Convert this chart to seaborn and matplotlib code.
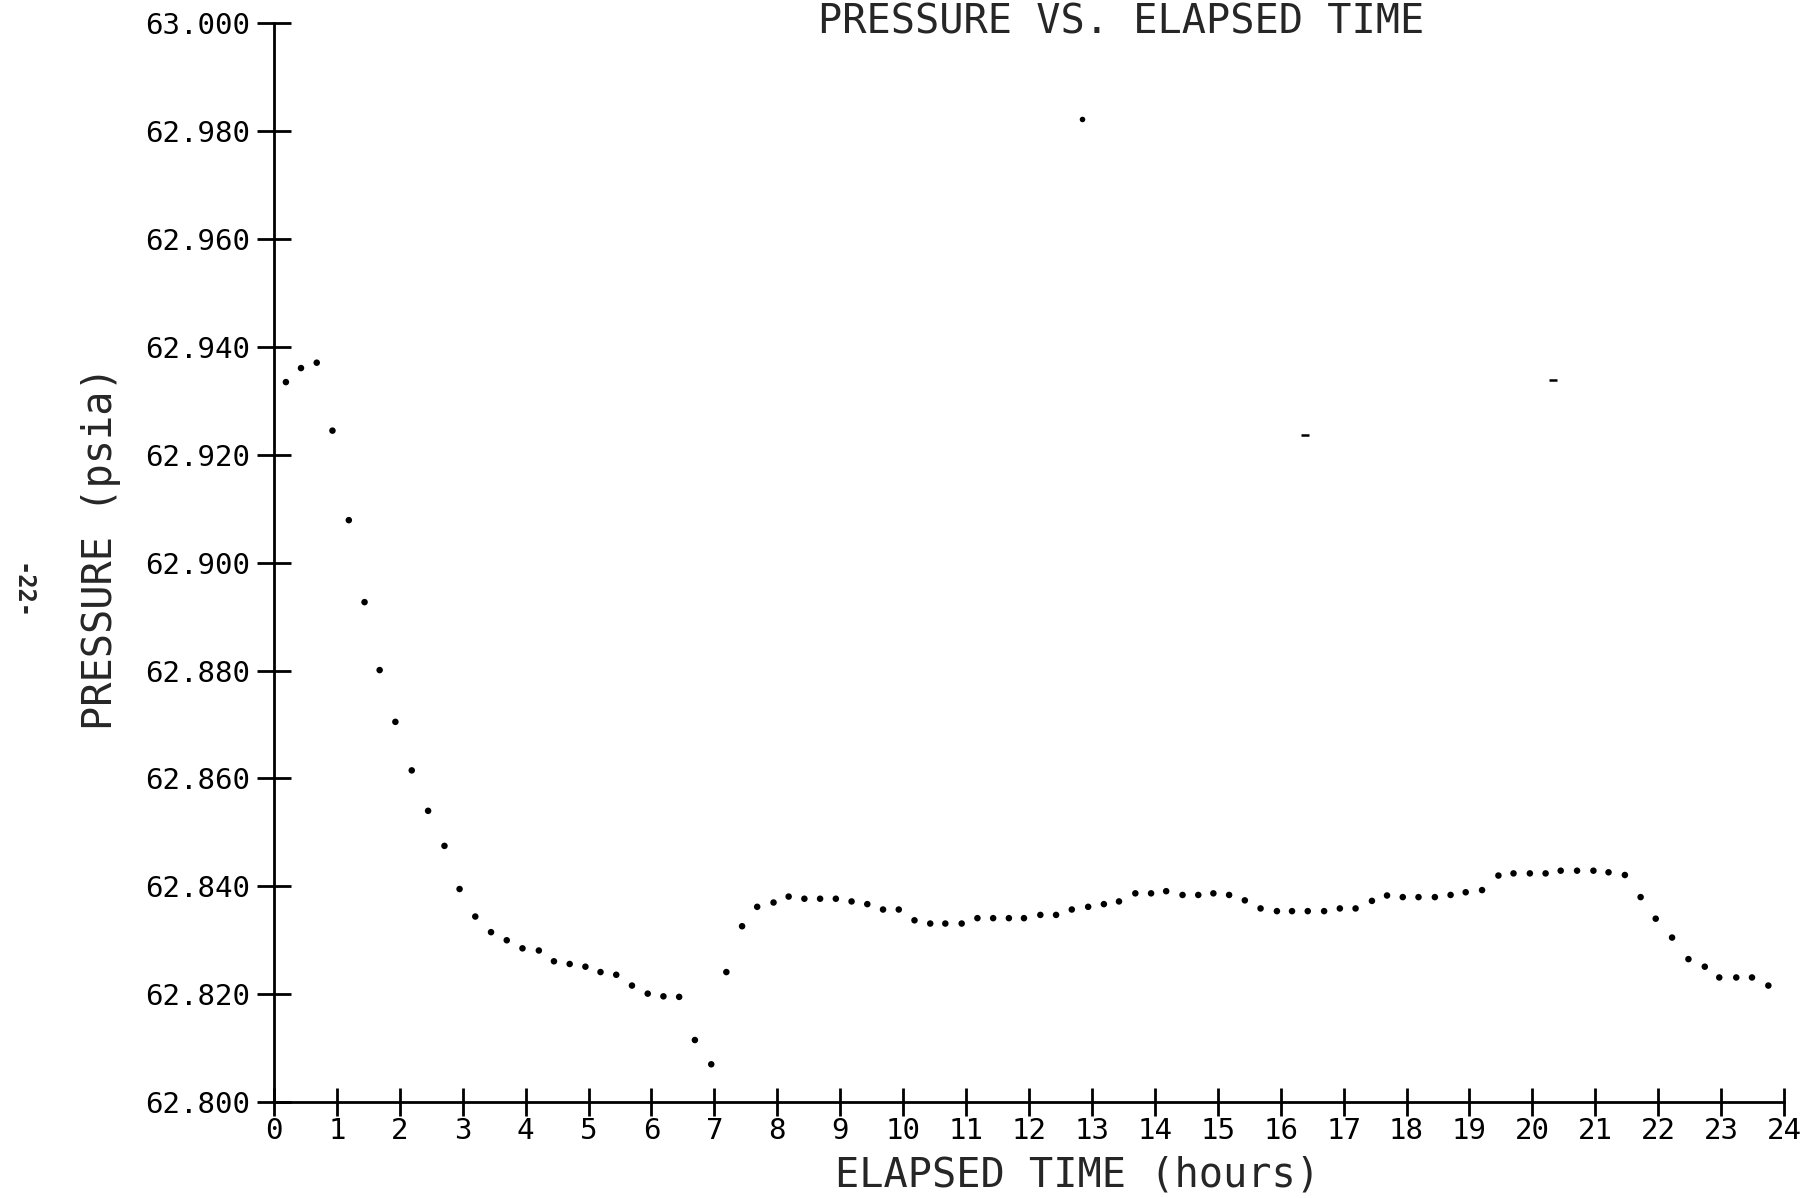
import matplotlib
matplotlib.use('Agg')
import matplotlib.pyplot as plt
import seaborn as sns
import pandas as pd

# readings taken off the scanned plot, ~every 15 min
hours = [0.19, 0.43, 0.68, 0.93, 1.19, 1.44, 1.68, 1.93, 2.19, 2.45, 2.71, 2.95,
         3.20, 3.45, 3.70, 3.95, 4.21, 4.45, 4.70, 4.95, 5.19, 5.44, 5.69, 5.94,
         6.19, 6.44, 6.69, 6.95, 7.19, 7.44, 7.68, 7.94, 8.18, 8.43, 8.68, 8.93,
         9.18, 9.43, 9.68, 9.93, 10.18, 10.43, 10.67, 10.93, 11.18, 11.43, 11.68, 11.92,
         12.18, 12.43, 12.68, 12.94, 13.19, 13.43, 13.69, 13.94, 14.18, 14.44, 14.69, 14.93,
         15.18, 15.43, 15.68, 15.94, 16.18, 16.43, 16.69, 16.94, 17.19, 17.45, 17.69, 17.94,
         18.19, 18.45, 18.70, 18.94, 19.20, 19.46, 19.70, 19.96, 20.21, 20.45, 20.71, 20.97,
         21.21, 21.47, 21.72, 21.96, 22.22, 22.48, 22.74, 22.97, 23.24, 23.49, 23.75]
pressure = [62.9335, 62.9361, 62.9371, 62.9245, 62.9079, 62.8927, 62.8801, 62.8705,
            62.8615, 62.8540, 62.8475, 62.8395, 62.8344, 62.8315, 62.8300, 62.8285,
            62.8281, 62.8261, 62.8256, 62.8251, 62.8241, 62.8236, 62.8216, 62.8201,
            62.8196, 62.8195, 62.8115, 62.8070, 62.8241, 62.8326, 62.8362, 62.8370,
            62.8381, 62.8377, 62.8377, 62.8377, 62.8372, 62.8367, 62.8357, 62.8357,
            62.8337, 62.8331, 62.8331, 62.8331, 62.8341, 62.8341, 62.8341, 62.8341,
            62.8347, 62.8347, 62.8357, 62.8362, 62.8367, 62.8372, 62.8387, 62.8387,
            62.8391, 62.8384, 62.8384, 62.8387, 62.8384, 62.8374, 62.8359, 62.8354,
            62.8354, 62.8354, 62.8354, 62.8359, 62.8359, 62.8373, 62.8383, 62.8380,
            62.8380, 62.8380, 62.8384, 62.8389, 62.8393, 62.8420, 62.8424, 62.8424,
            62.8424, 62.8429, 62.8429, 62.8429, 62.8426, 62.8421, 62.8380, 62.8340,
            62.8305, 62.8265, 62.8251, 62.8231, 62.8231, 62.8231, 62.8216]

# stray specks on the scan (one dot, two short dashes)
speck_dot_hours = [12.85]
speck_dot_pressure = [62.9822]
speck_dash_hours = [16.39, 20.33]
speck_dash_pressure = [62.9237, 62.9338]

x_ticks = list(range(0, 25))
y_ticks = [62.800, 62.820, 62.840, 62.860, 62.880, 62.900,
           62.920, 62.940, 62.960, 62.980, 63.000]

df = pd.DataFrame({'hours': hours, 'pressure': pressure})

sns.set_style('ticks')
plt.rcParams['font.family'] = ['DejaVu Sans Mono']

fig = plt.figure(figsize=(18.19, 11.98), dpi=100)
ax = fig.add_axes([0.1506, 0.0801, 0.8302, 0.9003])

sns.scatterplot(data=df, x='hours', y='pressure', ax=ax, color='black',
                s=22, edgecolor='none', legend=False)
ax.scatter(speck_dot_hours, speck_dot_pressure, s=16, color='black', edgecolor='none')
ax.scatter(speck_dash_hours, speck_dash_pressure, marker='_', s=30, color='black',
           linewidths=1.8)

ax.set_xlim(0, 24)
ax.set_ylim(62.8, 63.0)
ax.set_xticks(x_ticks)
ax.set_yticks(y_ticks)
ax.set_yticklabels(['%.3f' % v for v in y_ticks])

for s in ['top', 'right']:
    ax.spines[s].set_visible(False)
for s in ['left', 'bottom']:
    ax.spines[s].set_linewidth(2.0)
    ax.spines[s].set_color('black')

ax.tick_params(axis='y', left=True, direction='inout', length=25, width=2.0, pad=5,
               labelsize=21, colors='black')
ax.tick_params(axis='x', bottom=True, direction='inout', length=20, width=2.0, pad=1,
               labelsize=21, colors='black')

ax.set_xlabel('ELAPSED TIME (hours)', fontsize=29)
ax.xaxis.set_label_coords(0.532, -0.05)
ax.set_ylabel('PRESSURE (psia)', fontsize=29)
ax.yaxis.set_label_coords(-0.101, 0.514)

fig.text(0.6163, 0.972, 'PRESSURE VS. ELAPSED TIME', fontsize=29,
         ha='center', va='baseline')
fig.text(0.012, 0.506, '-22-', fontsize=17, fontweight='bold',
         rotation=270, ha='center', va='center')

fig.savefig('out.png', dpi=100, facecolor='white')
